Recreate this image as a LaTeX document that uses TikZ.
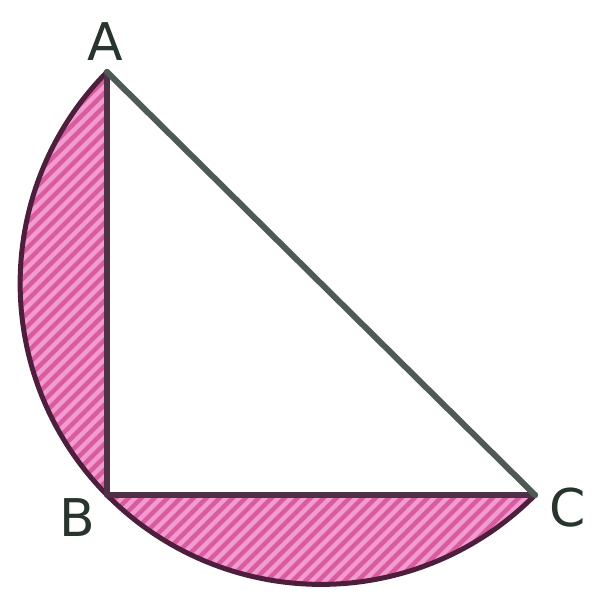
\documentclass[tikz,border=0pt]{standalone}
\usepackage{fontspec}
\setsansfont{DejaVu Sans}
\definecolor{segfill}{HTML}{D85C9E}
\definecolor{segstripe}{HTML}{F39AD0}
\definecolor{segedge}{HTML}{4E1F3C}
\definecolor{triline}{HTML}{4F5A55}
\definecolor{lab}{HTML}{27352D}
\tikzset{
  seg/.style={fill=segfill},
  stripe/.style={draw=segstripe,line width=4.5pt},
  segline/.style={draw=segedge,line width=5pt},
  tri/.style={draw=triline,line width=6pt,line cap=round,line join=round},
  lbl/.style={text=lab,font=\sffamily\fontsize{52}{52}\selectfont,inner sep=0pt}
}
\begin{document}
\begin{tikzpicture}[x=1pt,y=1pt]
\useasboundingbox (0,0) rectangle (595,594);
\coordinate (A) at (107,522);
\coordinate (B) at (107,99);
\coordinate (C) at (535,99);
% segment on AB
\fill[seg] (A) arc[start angle=135.34,end angle=224.66,radius=300.9] -- cycle;
\begin{scope}
\clip (A) arc[start angle=135.34,end angle=224.66,radius=300.9] -- cycle;
\foreach \k in {-60,...,60} \draw[stripe] (0,\k*13) -- ++(600,600);
\end{scope}
\draw[segline] (A) arc[start angle=135.34,end angle=224.66,radius=300.9];
% segment on BC
\fill[seg] (B) arc[start angle=224.66,end angle=315.34,radius=300.9] -- cycle;
\begin{scope}
\clip (B) arc[start angle=224.66,end angle=315.34,radius=300.9] -- cycle;
\foreach \k in {-60,...,60} \draw[stripe] (0,\k*13) -- ++(600,600);
\end{scope}
\draw[segline] (B) arc[start angle=224.66,end angle=315.34,radius=300.9];
% triangle
\draw[tri,draw=segedge!70!triline] (A) -- (B) -- (C);
\draw[tri] (A) -- (C);
% labels
\node[lbl] (lA) at (105,552) {A};
\node[lbl] (lB) at (77,76) {B};
\node[lbl] (lC) at (568,86) {C};
\end{tikzpicture}
\end{document}
